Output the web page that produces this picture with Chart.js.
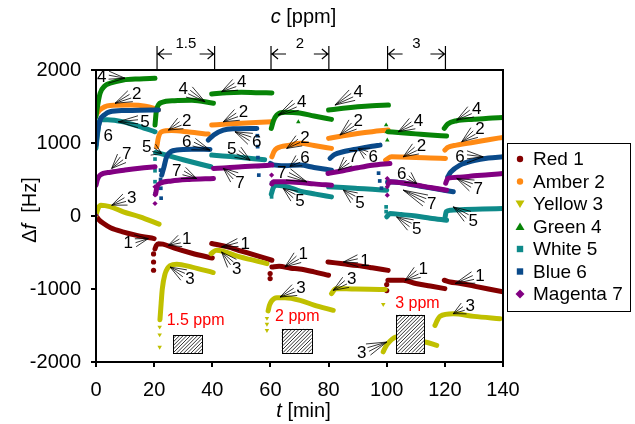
<!DOCTYPE html>
<html><head><meta charset="utf-8">
<script src="https://cdn.jsdelivr.net/npm/chart.js@4"></script>
<style>html,body{margin:0;padding:0;background:#fff}canvas{display:block}</style>
</head><body>
<canvas id="c" width="635" height="424"></canvas>
<script>
const FONT = '"Liberation Sans", Arial, sans-serif';
const seriesNames = ['Red 1','Amber 2','Yellow 3','Green 4','White 5','Blue 6','Magenta 7'];
const seriesColors = ['#840000','#FF8A14','#C0C000','#078407','#0E8A8A','#0A4A8A','#820082'];
const seriesMarkers = ['circle','circle','triangleDown','triangle','rect','rect','rectRot'];
const xTicks = [0,20,40,60,80,100,120,140];
const yTicks = [-2000,-1000,0,1000,2000];

// [t (min), Δf (Hz)] segments
const red = [
 [[0,0],[1,-50],[2.5,-100],[5,-160],[9.5,-220],[14,-265],[20,-310]],
 [[20.3,-450],[20.8,-400],[21.5,-380],[23,-385],[27,-440],[33,-510],[40,-575]],
 [[39.8,-377],[45,-420],[50,-480],[55,-540],[60.5,-606]],
 [[60.5,-700],[63,-690],[67,-715],[70,-725],[75,-765],[80,-812]],
 [[79.8,-629],[85,-655],[90,-680],[95,-710],[100.5,-745]],
 [[100.4,-880],[105.7,-881],[110,-925],[115,-960],[120,-995]],
 [[119.8,-880],[121.8,-904],[125,-920],[130,-960],[135,-1000],[140,-1040]]
];
const redDots = [[19.8,-520],[19.8,-630],[19.8,-743],[59.9,-789],[59.9,-857],[100,-940],[100,-1022]];

const amber = [
 [[0.3,1400],[1.2,1450],[4.8,1515],[11.7,1520],[17,1505],[21.5,1455]],
 [[20.9,948],[21.5,1080],[22.6,1154],[26,1170],[32,1150],[38.6,1122]],
 [[39.8,1246],[45,1260],[50,1270],[55,1280],[60.5,1290]],
 [[60.5,811],[61.2,880],[62.2,926],[66.7,971],[70.2,995],[75,965],[81,926]],
 [[80,1063],[85,1100],[90,1130],[95,1155],[100.5,1177]],
 [[99.6,766],[101.7,811],[105,808],[110,800],[115,795],[120.2,789]],
 [[120,903],[121,940],[124,971],[130,1010],[135,1045],[140,1077]]
];
const amberDots = [];

const yellow = [
 [[0,11],[0.8,110],[1.7,148],[4.8,128],[9.4,57],[15.1,-12],[21.7,-112]],
 [[22,-1420],[22.4,-1200],[22.8,-1000],[23.7,-800],[25.5,-680],[27.8,-660],[33,-700],[40.3,-775]],
 [[39.6,-515],[41.4,-469],[49.5,-561],[58.8,-652]],
 [[59.2,-1300],[59.7,-1220],[60.5,-1160],[62.2,-1120],[65,-1120],[70.2,-1155],[75,-1220],[81.6,-1292]],
 [[81,-1063],[82.5,-995],[88,-1000],[94,-1005],[99.5,-1008]],
 [[98.8,-1860],[99.5,-1800],[101,-1720],[103.4,-1659],[107,-1690],[110,-1715],[113.2,-1727],[117.2,-1773]],
 [[116.6,-1498],[117.5,-1420],[118.3,-1375],[122.9,-1340],[130,-1375],[139,-1406]]
];
const yellowDots = [[21.9,-1520],[21.9,-1626],[21.9,-1796],[58.8,-1400],[58.8,-1480],[58.8,-1567],[98.8,-1210]];

const green = [
 [[0,1360],[0.5,1500],[1.4,1680],[3,1780],[4.8,1818],[9.4,1863],[15,1878],[20.3,1886]],
 [[20.3,1246],[20.8,1451],[22.6,1555],[27,1580],[33,1585],[40.4,1545]],
 [[39.8,1670],[45,1690],[50,1695],[55,1690],[60.5,1685]],
 [[60.3,1200],[61,1300],[62.2,1383],[65,1420],[70,1410],[75,1370],[81,1324]],
 [[80,1451],[85,1475],[90,1495],[95,1510],[100.6,1520]],
 [[100.5,1154],[105,1140],[110,1125],[115,1110],[120.6,1095]],
 [[119.8,1200],[121,1260],[124,1305],[130,1325],[135,1340],[140,1351]]
];
const greenDots = [[99.8,1246],[100,1150],[100.2,1040],[69.6,1290]];

const white = [
 [[0,930],[0.6,1150],[1.4,1320],[4,1320],[9.4,1290],[15,1225],[20.3,1154]],
 [[20.5,870],[22,857],[30,770],[39.5,674]],
 [[39.8,834],[45,820],[50,800],[55.3,780],[58,770]],
 [[60.3,300],[61,390],[62.2,422],[66,400],[70.2,340],[75.5,300],[81,262]],
 [[80,399],[85,390],[90,378],[95,365],[100,354]],
 [[100,-10],[101.1,34],[105,20],[110,0],[115,-30],[120.6,-58]],
 [[120,-34],[120.5,60],[122,80],[127,90],[133,95],[140,103]]
];
const whiteDots = [[20.3,780],[20.3,620],[20.3,470],[20.3,300],[60.4,450],[60.4,262],[99.8,125],[99.8,60]];

const blue = [
 [[0,971],[0.5,1150],[1.4,1314],[3,1390],[4.8,1428],[10,1445],[15,1450],[21.5,1451]],
 [[22.6,560],[23.4,674],[24.3,811],[27.8,903],[33,915],[39.2,912]],
 [[38.6,1040],[40.5,1110],[43.8,1177],[48,1195],[55.3,1200]],
 [[60,720],[61,700],[65,690],[70.2,697],[75,665],[81,628]],
 [[80.5,790],[82,840],[85,880],[90,920],[95,955],[97.7,971]],
 [[100.3,468],[105,455],[110,420],[115,385],[122.9,331]],
 [[121,536],[122,600],[125.2,697],[130,760],[135,795],[140,811]]
];
const blueDots = [[22.2,628],[22.2,500],[22.3,380],[22.4,244],[55.5,1100],[55.6,950],[55.7,800],[55.8,680],[56,560],[97.2,587],[97.6,480],[98.2,381]];

const magenta = [
 [[0,422],[0.5,500],[1.4,560],[5,600],[10,630],[15,655],[20.3,674]],
 [[20.5,300],[21,400],[22,446],[26,480],[32,500],[40.4,514]],
 [[40.4,652],[45,660],[50,675],[55,685],[60.5,697]],
 [[60.5,440],[61,468],[65,470],[70,460],[75,440],[81,422]],
 [[79.8,583],[85,620],[90,660],[95,695],[101.1,720]],
 [[100.5,440],[101.1,468],[105,455],[110,425],[115,390],[120.6,354]],
 [[120.3,450],[121,514],[125,530],[130,550],[135,565],[140,583]]
];
const magentaDots = [[0,11],[20.3,400],[20.3,290],[20.3,171],[60.4,560],[100.2,514],[100.2,400],[100.2,285]];

// callout labels: [text, label t, label Δf, target t, target Δf]
const callouts = [
 ['4',1.96,1908,9.98,1887],['2',14.0,1681,6.54,1544],['5',16.86,1291,7.67,1291],['6',4.23,1109,null,null],
 ['7',10.56,858,5.4,652],['3',12.28,262,5.4,148],['1',11.1,-355,18.0,-309],
 ['4',30.0,1749,37.5,1565],['2',31.2,1314,24.9,1177],['5',17.44,948,22.6,857],['6',31.2,1017,39.2,903],
 ['7',27.8,628,34.6,514],['3',32.3,-857,25.5,-700],['1',31.2,-309,24.9,-401],
 ['4',50.1,1840,43.2,1703],['2',50.7,1428,43.8,1291],['6',55.3,1017,47.8,1154],['5',46.7,926,53.0,766],
 ['7',49.5,468,43.8,652],['3',48.4,-720,43.2,-493],['1',51.3,-377,43.2,-424],
 ['4',70.8,1565,62.7,1383],['2',71.9,1081,65.6,926],['6',71.9,810,66.7,680],['7',63.9,605,72.5,468],
 ['5',70.2,217,64.4,377],['3',70.5,-973,63.3,-1110],['1',71.3,-514,65.0,-698],
 ['4',90.2,1703,82.2,1520],['2',90.2,1314,83.9,1109],['7',88.5,811,83.4,628],['6',95.4,811,90.2,926],
 ['5',90.8,193,85.1,354],['1',92.5,-606,85.1,-630],['3',88.0,-857,81.6,-1018],
 ['4',110.9,1314,104.0,1154],['2',112.0,971,105.7,811],['6',105.2,583,110.3,446],['7',115.5,172,105.7,354],
 ['5',110.3,-172,103.4,-12],['1',112.6,-720,106.3,-881],['3',91.4,-1865,100.0,-1727],
 ['4',131.0,1475,124.1,1314],['2',132.1,1200,125.8,1017],['6',125.2,811,133.2,811],['7',131.5,377,124.1,514],
 ['5',129.8,-58,122.9,125],['1',132.1,-812,123.5,-926],['3',128.7,-1224,122.9,-1338]
];
const ppmLabels = [['1.5 ppm',24.3,-1430],['2 ppm',61.6,-1384],['3 ppm',102.9,-1200]];
const ppmBoxes = [[26.6,36.7,-1626,-1878],[63.9,74.2,-1543,-1873],[103.2,112.9,-1351,-1873]];
const brackets = [[21,40.8,'1.5'],[60.2,80.1,'2'],[100.3,120.2,'3']];
const yTitle = [['\u0394',0],['f',1],['  [Hz]',0]];
const xTitle = [['t',1],[' [min]',0]];
const topTitle = [['c',1],[' [ppm]',0]];

const seriesData = [red, amber, yellow, green, white, blue, magenta];
const seriesDots = [redDots, amberDots, yellowDots, greenDots, whiteDots, blueDots, magentaDots];

const datasets = [];
seriesData.forEach((segs, s) => {
  segs.forEach(seg => datasets.push({
    data: seg.map(p => ({x:p[0], y:p[1]})),
    showLine: true, borderColor: seriesColors[s], backgroundColor: seriesColors[s],
    borderWidth: 5, pointRadius: 0, pointHoverRadius: 0, borderCapStyle: 'round', borderJoinStyle: 'round',
    cubicInterpolationMode: 'monotone', order: 6 - s
  }));
  const m = seriesMarkers[s];
  datasets.push({
    data: seriesDots[s].map(p => ({x:p[0], y:p[1]})),
    showLine: false, pointRadius: 2.6, pointHoverRadius: 0,
    pointStyle: m === 'triangleDown' ? 'triangle' : m, rotation: m === 'triangleDown' ? 180 : 0,
    backgroundColor: seriesColors[s], borderColor: seriesColors[s], borderWidth: 0, order: 6 - s
  });
});

function drawMixed(ctx, parts, cx, cy, size) {
  let w = 0;
  parts.forEach(p => { ctx.font = (p[1] ? 'italic ' : '') + size + 'px ' + FONT; w += ctx.measureText(p[0]).width; });
  let x = cx - w / 2;
  ctx.textAlign = 'left'; ctx.textBaseline = 'middle'; ctx.fillStyle = '#000';
  parts.forEach(p => { ctx.font = (p[1] ? 'italic ' : '') + size + 'px ' + FONT; ctx.fillText(p[0], x, cy); x += ctx.measureText(p[0]).width; });
}
function drawMarker(ctx, m, x, y, c) {
  ctx.fillStyle = c; ctx.beginPath();
  if (m === 'circle') ctx.arc(x, y, 3.2, 0, Math.PI * 2);
  else if (m === 'triangleDown') { ctx.moveTo(x - 4.5, y - 3.5); ctx.lineTo(x + 4.5, y - 3.5); ctx.lineTo(x, y + 4); }
  else if (m === 'triangle') { ctx.moveTo(x - 4.5, y + 3.5); ctx.lineTo(x + 4.5, y + 3.5); ctx.lineTo(x, y - 4); }
  else if (m === 'rect') ctx.rect(x - 3.2, y - 3.2, 6.4, 6.4);
  else if (m === 'rectRot') { ctx.moveTo(x, y - 4.5); ctx.lineTo(x + 4.5, y); ctx.lineTo(x, y + 4.5); ctx.lineTo(x - 4.5, y); }
  ctx.closePath(); ctx.fill();
}

const overlay = {
  id: 'overlay',
  afterDatasetsDraw(chart) {
    const {ctx, chartArea: a, scales: {x, y}} = chart;
    ctx.save();
    // hatched concentration boxes
    ppmBoxes.forEach(b => {
      const x0 = x.getPixelForValue(b[0]), x1 = x.getPixelForValue(b[1]);
      const y0 = y.getPixelForValue(b[2]), y1 = y.getPixelForValue(b[3]);
      const w = x1 - x0, h = y1 - y0;
      ctx.save();
      ctx.beginPath(); ctx.rect(x0, y0, w, h); ctx.fillStyle = '#fff'; ctx.fill(); ctx.clip();
      ctx.strokeStyle = '#333'; ctx.lineWidth = 1; ctx.beginPath();
      for (let k = -h; k < w + h; k += 3.6) { ctx.moveTo(x0 + k, y1); ctx.lineTo(x0 + k + h, y0); }
      ctx.stroke(); ctx.restore();
      ctx.strokeStyle = '#000'; ctx.lineWidth = 1; ctx.strokeRect(Math.round(x0) + 0.5, Math.round(y0) + 0.5, Math.round(w), Math.round(h));
    });
    // red ppm labels
    ctx.fillStyle = '#FF0000'; ctx.font = '16px ' + FONT; ctx.textAlign = 'left'; ctx.textBaseline = 'middle';
    ppmLabels.forEach(l => ctx.fillText(l[0], x.getPixelForValue(l[1]), y.getPixelForValue(l[2])));
    // callouts
    ctx.font = '17px ' + FONT; ctx.textAlign = 'center'; ctx.textBaseline = 'middle';
    callouts.forEach(c => {
      const lx = x.getPixelForValue(c[1]), ly = y.getPixelForValue(c[2]);
      ctx.fillStyle = '#000'; ctx.fillText(c[0], lx, ly + 1);
      if (c[3] === null) return;
      const ax = x.getPixelForValue(c[3]), ay = y.getPixelForValue(c[4]);
      let dx = ax - lx, dy = ay - ly; const len = Math.hypot(dx, dy); dx /= len; dy /= len;
      const px = -dy, py = dx;
      const bx = lx + dx * 7, by = ly + dy * 7;
      ctx.strokeStyle = '#000'; ctx.lineWidth = 0.8; ctx.beginPath();
      [-6, -2, 2, 6].forEach(o => { ctx.moveTo(bx + px * o, by + py * o); ctx.lineTo(ax, ay); });
      ctx.stroke();
    });
    ctx.restore();
  },
  afterDraw(chart) {
    const {ctx, chartArea: a, scales: {x}} = chart;
    ctx.save();
    ctx.strokeStyle = '#000'; ctx.lineWidth = 2;
    ctx.strokeRect(a.left, a.top, a.right - a.left, a.bottom - a.top);
    // top concentration brackets
    ctx.lineWidth = 1.2;
    brackets.forEach(b => {
      const x0 = x.getPixelForValue(b[0]), x1 = x.getPixelForValue(b[1]);
      const ya = a.top - 16;
      ctx.beginPath();
      ctx.moveTo(x0, a.top - 24); ctx.lineTo(x0, a.top);
      ctx.moveTo(x1, a.top - 24); ctx.lineTo(x1, a.top);
      ctx.moveTo(x0, ya); ctx.lineTo(x0 + 15, ya);
      ctx.moveTo(x0 + 7, ya - 5); ctx.lineTo(x0 + 1, ya); ctx.lineTo(x0 + 7, ya + 5);
      ctx.moveTo(x1, ya); ctx.lineTo(x1 - 15, ya);
      ctx.moveTo(x1 - 7, ya - 5); ctx.lineTo(x1 - 1, ya); ctx.lineTo(x1 - 7, ya + 5);
      ctx.stroke();
      ctx.fillStyle = '#000'; ctx.font = '15px ' + FONT; ctx.textAlign = 'center'; ctx.textBaseline = 'middle';
      ctx.fillText(b[2], (x0 + x1) / 2, a.top - 26);
    });
    // titles
    const cx = (a.left + a.right) / 2 + 4;
    drawMixed(ctx, topTitle, cx, 17, 20);
    drawMixed(ctx, xTitle, cx, 411, 20);
    ctx.save(); ctx.translate(30, 210); ctx.rotate(-Math.PI / 2);
    drawMixed(ctx, yTitle, 0, 0, 20); ctx.restore();
    // legend
    const lx = a.right + 4, ly = 143;
    ctx.strokeStyle = '#000'; ctx.lineWidth = 1;
    ctx.strokeRect(lx + 0.5, ly + 0.5, 123, 168);
    ctx.font = '19px ' + FONT; ctx.textAlign = 'left'; ctx.textBaseline = 'middle';
    seriesNames.forEach((n, i) => {
      const yy = ly + 16 + i * 22.5;
      drawMarker(ctx, seriesMarkers[i], lx + 13, yy, seriesColors[i]);
      ctx.fillStyle = '#000'; ctx.fillText(n, lx + 26, yy + 1);
    });
    ctx.restore();
  }
};

new Chart(document.getElementById('c'), {
  type: 'scatter',
  data: { datasets },
  plugins: [overlay],
  options: {
    responsive: false, animation: false, devicePixelRatio: 1,
    layout: { padding: { left: 0, right: 132, top: 70, bottom: 0 } },
    plugins: { legend: { display: false }, tooltip: { enabled: false } },
    events: [],
    scales: {
      x: {
        type: 'linear', min: 0, max: 140,
        afterBuildTicks: s => { s.ticks = xTicks.map(v => ({value: v})); },
        afterFit: s => { s.height = 62; },
        grid: { display: true, drawOnChartArea: false, drawTicks: true, tickLength: 5, color: '#000', lineWidth: 2 },
        border: { display: true, color: '#000', width: 2 },
        ticks: { font: { family: FONT, size: 20 }, color: '#000', padding: 11, maxRotation: 0, autoSkip: false, callback: v => String(v) }
      },
      y: {
        type: 'linear', min: -2000, max: 2000,
        afterBuildTicks: s => { s.ticks = yTicks.map(v => ({value: v})); },
        afterFit: s => { s.width = 96; },
        grid: { display: true, drawOnChartArea: false, drawTicks: true, tickLength: 5, color: '#000', lineWidth: 2 },
        border: { display: true, color: '#000', width: 2 },
        ticks: { font: { family: FONT, size: 20 }, color: '#000', padding: 10, autoSkip: false, callback: v => String(v) }
      }
    }
  }
});
</script>
</body></html>
